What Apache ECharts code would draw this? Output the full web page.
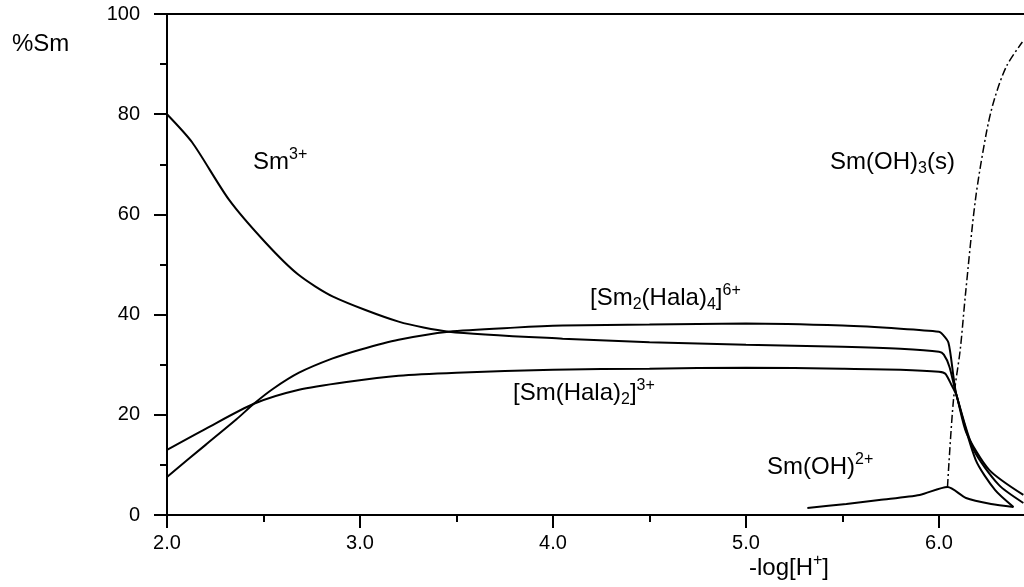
<!DOCTYPE html>
<html lang="en">
<head>
  <meta charset="UTF-8">
  <title>Sm speciation</title>
  <style>
    html, body { margin: 0; padding: 0; background: #fff; }
    #main { width: 1024px; height: 587px; }
  </style>
</head>
<body>
  <div id="main"></div>
  <script src="https://cdn.jsdelivr.net/npm/echarts@6/dist/echarts.min.js"></script>
  <script>
    // values: [-log[H+], %Sm]
    const sm3Data = [[2.0, 80], [2.13, 74.4], [2.32, 63], [2.51, 54.4], [2.68, 48], [2.86, 43.6],
      [3.2, 38.6], [3.46, 36.6], [4.05, 35.2], [4.5, 34.5], [5.0, 34.0], [5.5, 33.6], [5.8, 33.2],
      [6.0, 32.6], [6.025, 32.0], [6.054, 29.6], [6.09, 24], [6.18, 13], [6.31, 6], [6.437, 2.4]]
    const sm2Hala4Data = [[2.0, 7.6], [2.2, 14], [2.36, 19.1], [2.45, 22.2], [2.55, 25.2], [2.684, 28.4],
      [2.855, 31.2], [3.0, 33], [3.2, 35], [3.46, 36.6], [3.8, 37.4], [4.05, 37.8], [4.5, 38.0],
      [5.0, 38.2], [5.5, 37.8], [5.8, 37.2], [6.0, 36.6], [6.015, 36.2], [6.049, 34.4], [6.075, 27.6],
      [6.09, 24], [6.19, 11], [6.29, 5], [6.386, 1.6]]
    const smHala2Data = [[2.0, 13], [2.2, 17.2], [2.45, 22.2], [2.684, 25], [2.94, 26.6], [3.2, 27.8],
      [3.5, 28.4], [4.0, 29], [4.5, 29.2], [5.0, 29.4], [5.5, 29.2], [5.8, 29], [6.0, 28.6],
      [6.033, 28.2], [6.064, 26], [6.09, 24], [6.142, 16.4], [6.26, 9], [6.437, 4]]
    const smOHData = [[5.318, 1.4], [5.52, 2.2], [5.69, 3], [5.9, 4], [6.044, 5.6], [6.14, 3.4],
      [6.27, 2.2], [6.386, 1.6]]
    const smOH3Data = [[6.044, 5.6], [6.075, 23], [6.11, 33], [6.137, 44], [6.189, 63], [6.246, 76.4],
      [6.287, 83], [6.35, 89.6], [6.432, 94.4]]

    const font = 'Liberation Sans, Arial, sans-serif'
    const rich = {
      n: { fontSize: 24, fontFamily: font, color: '#000', lineHeight: 30, verticalAlign: 'middle' },
      sup: { fontSize: 16, fontFamily: font, color: '#000', lineHeight: 30, verticalAlign: 'top' },
      sub: { fontSize: 16, fontFamily: font, color: '#000', lineHeight: 30, verticalAlign: 'bottom' }
    }
    function label(x, y, text) {
      return {
        type: 'text', x: x, y: y, silent: true,
        style: { text: text, rich: rich, align: 'left', verticalAlign: 'middle' }
      }
    }

    const myChart = echarts.init(document.getElementById('main'))
    const black = '#000'
    const curve = (data) => ({
      type: 'line', data: data, smooth: 0.25, symbol: 'none',
      lineStyle: { color: black, width: 2 }
    })

    const option = {
      backgroundColor: '#fff',
      animation: false,
      // the plot runs on past the right edge of the picture
      grid: { left: 167, top: 14, right: -108, bottom: 72, outerBoundsMode: 'none', containLabel: false },
      xAxis: [{
        type: 'value', min: 2, max: 7, interval: 1,
        axisLine: { lineStyle: { color: black, width: 2 } },
        axisTick: { length: 13, lineStyle: { color: black, width: 2 } },
        minorTick: { show: true, splitNumber: 2, length: 7, lineStyle: { color: black, width: 2 } },
        splitLine: { show: false },
        axisLabel: { color: black, fontSize: 20, fontFamily: font, margin: 18,
          formatter: v => v.toFixed(1) }
      }, {
        type: 'value', position: 'top', min: 2, max: 7,
        axisLine: { show: true, lineStyle: { color: black, width: 2 } },
        axisTick: { show: false }, axisLabel: { show: false }, splitLine: { show: false }
      }],
      yAxis: {
        type: 'value', min: 0, max: 100, interval: 20,
        axisLine: { show: true, lineStyle: { color: black, width: 2 } },
        axisTick: { show: true, length: 13, lineStyle: { color: black, width: 2 } },
        minorTick: { show: true, splitNumber: 2, length: 7, lineStyle: { color: black, width: 2 } },
        splitLine: { show: false },
        axisLabel: { color: black, fontSize: 20, fontFamily: font, margin: 27 }
      },
      series: [
        curve(sm3Data),
        curve(sm2Hala4Data),
        curve(smHala2Data),
        curve(smOHData),
        {
          type: 'line', data: smOH3Data, smooth: 0.3, symbol: 'none',
          lineStyle: { color: black, width: 1.5, type: [8, 3, 2, 3] }
        }
      ],
      graphic: [
        label(12, 44, '{n|%Sm}'),
        label(253, 162, '{n|Sm}{sup|3+}'),
        label(830, 162, '{n|Sm(OH)}{sub|3}{n|(s)}'),
        label(590, 298, '{n|[Sm}{sub|2}{n|(Hala)}{sub|4}{n|]}{sup|6+}'),
        label(513, 393, '{n|[Sm(Hala)}{sub|2}{n|]}{sup|3+}'),
        label(767, 467, '{n|Sm(OH)}{sup|2+}'),
        label(749, 568, '{n|-log[H}{sup|+}{n|]}')
      ]
    }
    myChart.setOption(option)
  </script>
</body>
</html>
